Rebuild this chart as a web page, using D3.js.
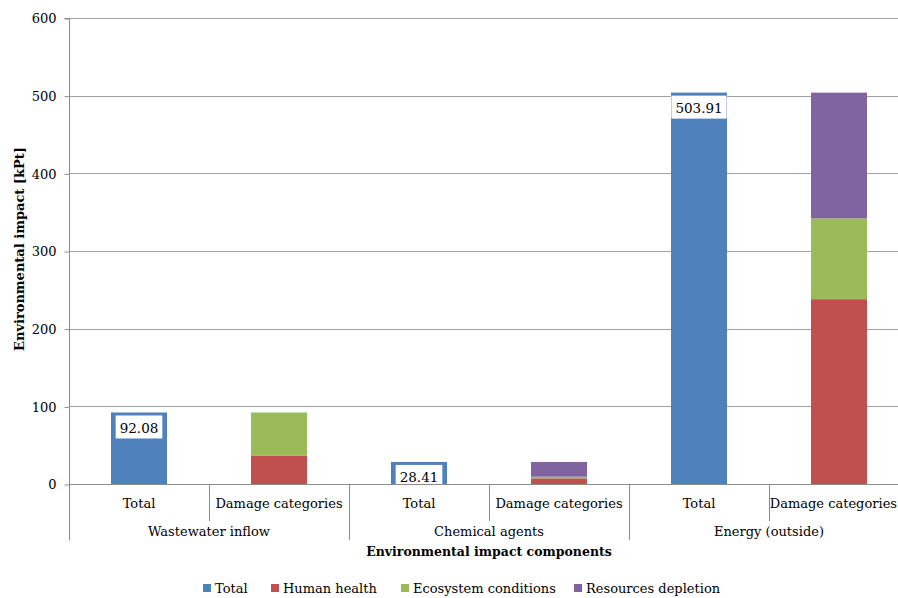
<!DOCTYPE html>
<html>
<head>
<meta charset="utf-8">
<script src="https://cdn.jsdelivr.net/npm/d3@7"></script>
<style>
  body { margin: 0; background: #fff; }
  svg { display: block; font-family: "DejaVu Serif", serif; }
</style>
</head>
<body>
<svg id="chart" width="898" height="598"></svg>
<script>
// Environmental impact per component: totals and their split by damage category (kPt)
const groups = ["Wastewater inflow", "Chemical agents", "Energy (outside)"];
const subCategories = ["Total", "Damage categories"];
const totals = [92.08, 28.41, 503.91];
const humanHealth = [36.7, 7.3, 238.0];
const ecosystemConditions = [55.38, 2.1, 104.0];
const resourcesDepletion = [0, 19.01, 161.91];
const yTicks = [0, 100, 200, 300, 400, 500, 600];
const seriesNames = ["Total", "Human health", "Ecosystem conditions", "Resources depletion"];
const seriesColors = ["#4F81BD", "#C0504D", "#9BBB59", "#8064A2"];

const svg = d3.select("#chart");
const W = 898;
const plotLeft = 69, plotRight = 909, plotTop = 18, plotBottom = 484;

// one slot per (group, sub-category) pair
const slots = [];
groups.forEach((g, gi) => subCategories.forEach((s, si) => slots.push({ key: gi + "|" + si, gi, si, group: g, sub: s })));

const x = d3.scaleBand().domain(slots.map(d => d.key)).range([plotLeft, plotRight])
  .paddingInner(0.6).paddingOuter(0.3);
const step = x.step();
const y = d3.scaleLinear().domain([0, 600]).range([plotBottom, plotTop]);

// gridlines
svg.append("g").selectAll("line").data(yTicks.filter(t => t > 0)).join("line")
  .attr("x1", plotLeft).attr("x2", plotRight)
  .attr("y1", d => Math.round(y(d)) + 0.5).attr("y2", d => Math.round(y(d)) + 0.5)
  .attr("stroke", "#a0a0a0").attr("stroke-width", 1);

// y axis
const yAxis = svg.append("g").attr("transform", `translate(${plotLeft + 0.5},0.5)`)
  .call(d3.axisLeft(y).tickValues(yTicks).tickSize(5).tickPadding(8));
yAxis.select(".domain").attr("stroke", "#8c8c8c").attr("d", `M-5,${Math.round(y(600))}H0V540`);
yAxis.selectAll(".tick line").attr("stroke", "#8c8c8c");
yAxis.selectAll(".tick text").attr("font-size", 13).attr("fill", "#000")
  .attr("font-family", "DejaVu Serif, serif");

// stacked damage-category bars
const damageRows = groups.map((g, gi) => ({
  key: gi + "|1",
  "Human health": humanHealth[gi],
  "Ecosystem conditions": ecosystemConditions[gi],
  "Resources depletion": resourcesDepletion[gi]
}));
const stack = d3.stack().keys(seriesNames.slice(1))(damageRows);
const color = d3.scaleOrdinal().domain(seriesNames).range(seriesColors);

svg.append("g").selectAll("g").data(stack).join("g")
  .attr("fill", d => color(d.key))
  .selectAll("rect").data(d => d.filter(p => p[1] > p[0])).join("rect")
  .attr("x", d => x(d.data.key)).attr("width", x.bandwidth())
  .attr("y", d => y(d[1])).attr("height", d => y(d[0]) - y(d[1]));

// total bars
const totalRows = groups.map((g, gi) => ({ key: gi + "|0", value: totals[gi] }));
svg.append("g").selectAll("rect").data(totalRows).join("rect")
  .attr("x", d => x(d.key)).attr("width", x.bandwidth())
  .attr("y", d => y(d.value)).attr("height", d => y(0) - y(d.value))
  .attr("fill", seriesColors[0]);

// value labels in white boxes at the inside end of the total bars
const lbl = svg.append("g").selectAll("g").data(totalRows).join("g")
  .attr("transform", d => `translate(${x(d.key) + x.bandwidth() / 2},${y(d.value)})`);
lbl.append("text").attr("text-anchor", "middle").attr("y", 20.5)
  .attr("font-size", 13.5).attr("fill", "#000")
  .text(d => d.value.toFixed(2))
  .each(function () {
    const b = this.getBBox();
    d3.select(this.parentNode).insert("rect", "text")
      .attr("x", b.x - 4).attr("y", 3).attr("width", b.width + 8).attr("height", 23)
      .attr("fill", "#fff");
  });

// x axis line and multi-level category boundaries
const ax = svg.append("g").attr("stroke", "#8c8c8c").attr("stroke-width", 1);
ax.append("line").attr("x1", plotLeft).attr("x2", plotRight).attr("y1", plotBottom + 0.5).attr("y2", plotBottom + 0.5);
slots.forEach(d => {
  const edge = Math.round(x(d.key) + x.bandwidth() / 2 + step / 2) + 0.5;
  const isGroupEdge = d.si === subCategories.length - 1;
  ax.append("line").attr("x1", edge).attr("x2", edge)
    .attr("y1", plotBottom).attr("y2", isGroupEdge ? 540 : 521);
});

// category labels (kept inside the canvas at the right edge)
svg.append("g").selectAll("text").data(slots).join("text")
  .attr("x", d => x(d.key) + x.bandwidth() / 2).attr("y", 508)
  .attr("text-anchor", "middle").attr("font-size", 13).text(d => d.sub)
  .each(function () {
    const b = this.getBBox();
    const over = b.x + b.width - (W - 1);
    if (over > 0) d3.select(this).attr("x", +d3.select(this).attr("x") - over);
  });
svg.append("g").selectAll("text").data(groups).join("text")
  .attr("x", (g, gi) => (x(gi + "|0") + x(gi + "|1") + x.bandwidth()) / 2).attr("y", 536)
  .attr("text-anchor", "middle").attr("font-size", 13).text(d => d);

// axis titles
svg.append("text").attr("x", (plotLeft + plotRight) / 2).attr("y", 556)
  .attr("text-anchor", "middle").attr("font-size", 12.5).attr("font-weight", "bold")
  .text("Environmental impact components");
svg.append("text").attr("transform", `translate(24,${(plotTop + plotBottom) / 2 - 2}) rotate(-90)`)
  .attr("text-anchor", "middle").attr("font-size", 13).attr("font-weight", "bold")
  .text("Environmental impact [kPt]");

// legend
const legendX = [203, 271, 401, 574];
const leg = svg.append("g").selectAll("g").data(seriesNames).join("g")
  .attr("transform", (d, i) => `translate(${legendX[i]},584)`);
leg.append("rect").attr("width", 8).attr("height", 8).attr("fill", (d, i) => seriesColors[i]);
leg.append("text").attr("x", 12).attr("y", 8.5).attr("font-size", 13).text(d => d);
</script>
</body>
</html>
